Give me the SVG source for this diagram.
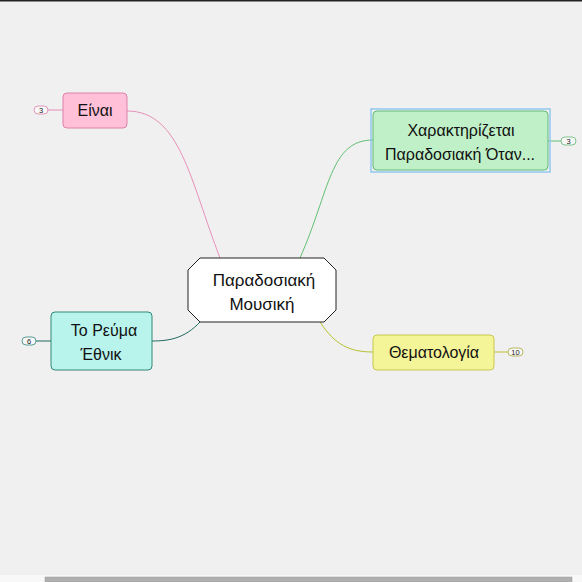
<svg xmlns="http://www.w3.org/2000/svg" width="582" height="582" viewBox="0 0 582 582">
<style>
.t{font-family:"Liberation Sans","DejaVu Sans",sans-serif;fill:#111;text-anchor:middle}
.n{font-size:16px}
.m{font-size:17px}
.b{font-size:7.5px;fill:#222}
.badge{fill:#f8f8f8;stroke-width:0.8}
.c{fill:none;stroke-width:1}
</style>
<rect x="0" y="0" width="582" height="582" fill="#f0f0f0"/>
<rect x="0" y="0" width="582" height="1.5" fill="#222"/>
<rect x="0" y="575" width="582" height="7" fill="#f8f8f8"/>
<rect x="45" y="577" width="527" height="5" fill="#b0b0b0" stroke="#999" stroke-width="0.5"/>
<g id="connectors">
<path class="c" stroke="#e890b8" d="M220,258 C190,180 180,111 127,111"/>
<path d="M34,110 H63" stroke="#e890b8" stroke-width="1"/>
<path class="c" stroke="#60c070" d="M300,258 C330,190 330,140 373,140"/>
<path d="M548,141 H561" stroke="#60c070" stroke-width="1"/>
<path class="c" stroke="#206860" d="M200,322 C185,338 170,341 152,341"/>
<path d="M36,341 H51" stroke="#206860" stroke-width="1"/>
<path class="c" stroke="#b8c030" d="M320,322 C335,345 350,352 373,352"/>
<path d="M494,352 H508" stroke="#b8c030" stroke-width="1"/>
</g>
<g id="central">
<path d="M200,258 H324 L336,270 V310 L324,322 H200 L188,310 V270 Z" fill="#fff" stroke="#222" stroke-width="1"/>
<text class="t m" x="264" y="286">Παραδοσιακή</text>
<text class="t m" x="262" y="310">Μουσική</text>
</g>
<g id="einai">
<rect x="63" y="93" width="64" height="35" rx="4" fill="#ffc0d8" stroke="#e080a8"/>
<text class="t n" x="95" y="116">Είναι</text>
<rect class="badge" x="34" y="106" width="14" height="8" rx="4" stroke="#e080a8"/>
<text class="t b" x="41" y="112.7">3</text>
</g>
<g id="xarakt">
<rect x="371" y="109" width="179" height="63" fill="none" stroke="#90c8f0" stroke-width="1.5"/>
<rect x="373" y="111" width="175" height="59" rx="4" fill="#c0f0c8" stroke="#60b878"/>
<text class="t n" x="461" y="136">Χαρακτηρίζεται</text>
<text class="t n" x="460" y="160">Παραδοσιακή Όταν...</text>
<rect class="badge" x="561" y="137" width="15" height="8" rx="4" stroke="#60b878"/>
<text class="t b" x="568.5" y="143.7">3</text>
</g>
<g id="reuma">
<rect x="51" y="312" width="101" height="58" rx="4" fill="#b8f4ec" stroke="#308878"/>
<text class="t n" x="104" y="336">Το Ρεύμα</text>
<text class="t n" x="101" y="360">Έθνικ</text>
<rect class="badge" x="22" y="337" width="14" height="8" rx="4" stroke="#308878"/>
<text class="t b" x="29" y="343.7">6</text>
</g>
<g id="thema">
<rect x="373" y="335" width="121" height="35" rx="4" fill="#f4f498" stroke="#c8c850"/>
<text class="t n" x="434" y="358">Θεματολογία</text>
<rect class="badge" x="508" y="348" width="15" height="8" rx="4" stroke="#a8a840"/>
<text class="t b" x="515.5" y="354.7">10</text>
</g>
</svg>
